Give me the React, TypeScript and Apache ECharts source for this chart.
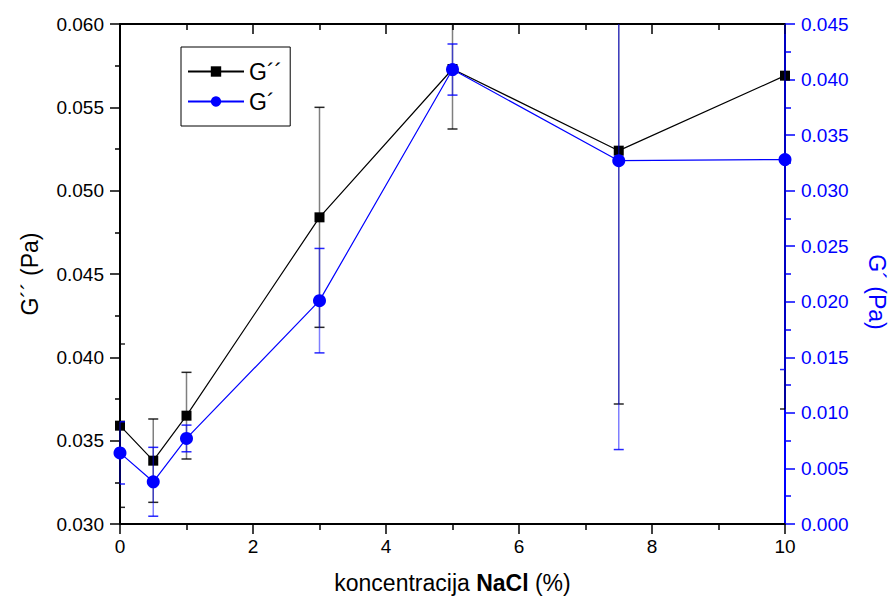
import React, { useEffect, useRef } from "react";
import * as echarts from "echarts";

// NaCl concentration (%)
const concentration = [0, 0.5, 1, 3, 5, 7.5, 10];
// Loss modulus G'' (Pa) with standard deviation
const lossModulus = [0.0359, 0.0338, 0.0365, 0.0484, 0.0573, 0.0524, 0.0569];
const lossModulusErr = [0.0049, 0.0025, 0.0026, 0.0066, 0.0036, 0.0152, 0.02];
// Storage modulus G' (Pa) with standard deviation
const storageModulus = [0.0064, 0.0038, 0.0077, 0.0201, 0.0409, 0.0327, 0.0328];
const storageModulusErr = [0.0028, 0.0031, 0.0012, 0.0047, 0.0023, 0.026, 0.0189];

const leftTicks = { min: 0.03, max: 0.06, interval: 0.005 };
const rightTicks = { min: 0, max: 0.045, interval: 0.005 };
const xTicks = { min: 0, max: 10, interval: 2 };

const FONT = "'Liberation Sans', Arial, sans-serif";
const BLUE = "#0000ff";

function errorBarRenderer(color: string, stemOpacity: number) {
  return (params: any, api: any) => {
    const x = api.value(0);
    const lo = api.value(1);
    const hi = api.value(2);
    const cs = params.coordSys;
    const top = cs.y;
    const bottom = cs.y + cs.height;
    const left = cs.x;
    const right = cs.x + cs.width;
    const pLo = api.coord([x, lo]);
    const pHi = api.coord([x, hi]);
    const px = pLo[0];
    const y1 = Math.max(top, Math.min(bottom, pHi[1]));
    const y2 = Math.max(top, Math.min(bottom, pLo[1]));
    const half = 5;
    const cx1 = Math.max(left, px - half);
    const cx2 = Math.min(right, px + half);
    const children: any[] = [
      {
        type: "line",
        shape: { x1: px, y1, x2: px, y2 },
        style: { stroke: color, lineWidth: 1.5, opacity: stemOpacity },
      },
    ];
    [pHi[1], pLo[1]].forEach((cy) => {
      if (cy >= top && cy <= bottom) {
        children.push({
          type: "line",
          shape: { x1: cx1, y1: cy, x2: cx2, y2: cy },
          style: { stroke: color, lineWidth: 1.5, opacity: 0.85 },
        });
      }
    });
    return { type: "group", children };
  };
}

export default function App() {
  const ref = useRef<HTMLDivElement>(null);

  useEffect(() => {
    document.body.style.margin = "0";
    document.body.style.overflow = "hidden";
    document.documentElement.style.overflow = "hidden";
    const chart = echarts.init(ref.current!, null, { renderer: "svg", width: 891, height: 606 });

    const lossPoints = concentration.map((x, i) => [x, lossModulus[i]]);
    const storagePoints = concentration.map((x, i) => [x, storageModulus[i]]);
    const lossBars = concentration.map((x, i) => [
      x,
      lossModulus[i] - lossModulusErr[i],
      lossModulus[i] + lossModulusErr[i],
    ]);
    const storageBars = concentration.map((x, i) => [
      x,
      storageModulus[i] - storageModulusErr[i],
      storageModulus[i] + storageModulusErr[i],
    ]);

    const labelStyle = { fontFamily: FONT, fontSize: 19, color: "#000" };

    chart.setOption({
      animation: false,
      backgroundColor: "#fff",
      textStyle: { fontFamily: FONT },
      grid: { left: 120, right: 106, top: 24, bottom: 82, containLabel: false, outerBoundsMode: "none" },
      legend: {
        orient: "vertical",
        left: 181,
        top: 47,
        data: ["G´´", "G´"],
        itemWidth: 56,
        itemHeight: 13,
        itemGap: 7,
        padding: [13, 8, 13, 6],
        borderColor: "#000",
        borderWidth: 1,
        borderRadius: 0,
        backgroundColor: "#fff",
        textStyle: { fontFamily: FONT, fontSize: 23, color: "#000" },
      },
      xAxis: [
        {
          type: "value",
          position: "bottom",
          ...xTicks,
          name: "{a|koncentracija }{b|NaCl}{a| (%)}",
          nameLocation: "middle",
          nameGap: 47,
          nameTextStyle: {
            rich: {
              a: { fontFamily: FONT, fontSize: 23, color: "#000" },
              b: { fontFamily: FONT, fontSize: 23, color: "#000", fontWeight: "bold" },
            },
          },
          axisLine: { onZero: false, lineStyle: { color: "#000", width: 2 } },
          axisTick: { length: 10, lineStyle: { color: "#000", width: 1.5 } },
          minorTick: { show: true, splitNumber: 2, length: 6, lineStyle: { color: "#000", width: 1.5 } },
          axisLabel: { ...labelStyle, margin: 13 },
          splitLine: { show: false },
        },
        {
          type: "value",
          position: "top",
          ...xTicks,
          axisLine: { onZero: false, lineStyle: { color: "#000", width: 2 } },
          axisTick: { inside: true, length: 10, lineStyle: { color: "#000", width: 1.5 } },
          minorTick: { show: true, splitNumber: 2, length: 6, lineStyle: { color: "#000", width: 1.5 } },
          axisLabel: { show: false },
          splitLine: { show: false },
        },
      ],
      yAxis: [
        {
          type: "value",
          position: "left",
          ...leftTicks,
          name: "G´´ (Pa)",
          nameLocation: "middle",
          nameGap: 79,
          nameTextStyle: { fontFamily: FONT, fontSize: 23, color: "#000" },
          axisLine: { show: true, onZero: false, lineStyle: { color: "#000", width: 2 } },
          axisTick: { length: 10, lineStyle: { color: "#000", width: 1.5 } },
          minorTick: { show: true, splitNumber: 2, length: 5, lineStyle: { color: "#000", width: 1.5 } },
          axisLabel: { ...labelStyle, margin: 16, formatter: (v: number) => v.toFixed(3) },
          splitLine: { show: false },
        },
        {
          type: "value",
          position: "right",
          ...rightTicks,
          name: "G´ (Pa)",
          nameLocation: "middle",
          nameRotate: -90,
          nameGap: 80,
          nameTextStyle: { fontFamily: FONT, fontSize: 23, color: BLUE, padding: [0, 0, 0, 36] },
          axisLine: { show: true, onZero: false, lineStyle: { color: BLUE, width: 2 } },
          axisTick: { length: 10, lineStyle: { color: BLUE, width: 1.5 } },
          minorTick: { show: true, splitNumber: 2, length: 6, lineStyle: { color: BLUE, width: 1.5 } },
          axisLabel: { ...labelStyle, color: BLUE, margin: 16, formatter: (v: number) => v.toFixed(3) },
          splitLine: { show: false },
        },
      ],
      series: [
        {
          type: "custom",
          name: "G´´ err",
          xAxisIndex: 0,
          yAxisIndex: 0,
          renderItem: errorBarRenderer("#000", 0.5),
          encode: { x: 0, y: [1, 2] },
          data: lossBars,
          z: 1,
          silent: true,
        },
        {
          type: "line",
          name: "G´´",
          xAxisIndex: 0,
          yAxisIndex: 0,
          data: lossPoints,
          symbol: "rect",
          symbolSize: 10,
          showAllSymbol: true,
          lineStyle: { color: "#000", width: 1.2 },
          itemStyle: { color: "#000" },
          z: 2,
        },
        {
          type: "custom",
          name: "G´ err",
          xAxisIndex: 0,
          yAxisIndex: 1,
          renderItem: errorBarRenderer(BLUE, 0.5),
          encode: { x: 0, y: [1, 2] },
          data: storageBars,
          z: 3,
          silent: true,
        },
        {
          type: "line",
          name: "G´",
          xAxisIndex: 0,
          yAxisIndex: 1,
          data: storagePoints,
          symbol: "circle",
          symbolSize: 13,
          showAllSymbol: true,
          lineStyle: { color: BLUE, width: 1.2 },
          itemStyle: { color: BLUE },
          z: 4,
        },
      ],
    });

    return () => chart.dispose();
  }, []);

  return (
    <div
      ref={ref}
      style={{ position: "fixed", left: 0, top: 0, width: 891, height: 606 }}
    />
  );
}
